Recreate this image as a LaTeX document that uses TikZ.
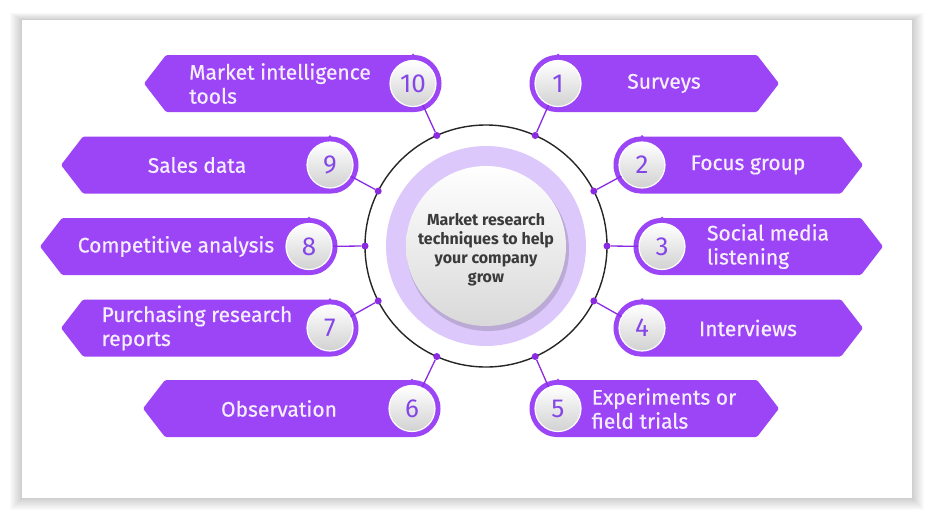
\documentclass[tikz,border=0pt]{standalone}
\usepackage{fontspec}
\setmainfont{Fira Sans}
\newfontfamily\bannerfont{Fira Sans}[FakeBold=0.6]
\usetikzlibrary{positioning,calc}
\definecolor{BannerPurple}{HTML}{9B45F7}
\definecolor{NumPurple}{HTML}{8446E6}
\definecolor{RingLilac}{HTML}{DCC8FB}
\definecolor{DotPurple}{HTML}{8A2BE2}
\definecolor{LabelWhite}{HTML}{F6EEFF}
\definecolor{HubGray}{HTML}{3B3B3B}

\tikzset{
  numball/.style={circle,minimum size=46pt,inner sep=0pt,draw=white,line width=1.2pt,
    top color=white,bottom color=black!18,text=NumPurple,font=\fontsize{26}{26}\selectfont},
  bannertext/.style={align=left,text=LabelWhite,font=\bannerfont\fontsize{21}{24}\selectfont,inner sep=0pt},
  ringdot/.style={circle,fill=DotPurple,inner sep=0pt,minimum size=7pt},
  link/.style={DotPurple,line width=1.3pt}
}

\begin{document}
\begin{tikzpicture}[x=1pt,y=-1pt]
  \useasboundingbox (0,0) rectangle (936,523);
  \fill[white] (0,0) rectangle (936,523);
  \foreach \i in {1,...,12} {
    \fill[black,opacity=0.016] (22-\i,20-\i*0.6) rectangle (912+\i,498+\i);
  }
  \fill[white] (22,20) rectangle (912,498);

  \coordinate (hub) at (486,246);
  \draw[black!85,line width=1.4pt] (hub) circle (121);
  \fill[RingLilac] (hub) circle (100);
  \fill[black,opacity=0.15] ($(hub)+(2,4)$) circle (81);
  \shade[top color=white,bottom color=black!15] (hub) circle (80);
  \node[align=center,text=HubGray,font=\bfseries\fontsize{16}{19}\selectfont] (title) at ($(hub)+(0,4)$)
    {Market research\\techniques to help\\your company\\grow};

  \foreach \k/\cx/\cy/\ang/\txt in {1/558/83.5/-66/Surveys,2/642/165/-27/Focus group,
      3/662/246.5/0/{Social media\\listening},4/642/328/27/Interviews,
      5/558/408.5/66/{Experiments or\\field trials}} {
    \fill[BannerPurple,rounded corners=1.5pt] (\cx,\cy-28.5) -- (\cx+199,\cy-28.5) -- (\cx+221,\cy)
      -- (\cx+199,\cy+28.5) -- (\cx,\cy+28.5) arc[start angle=90,end angle=270,radius=28.5] -- cycle;
    \node[numball] (n\k) at (\cx,\cy) {\k};
    \node[bannertext] (t\k) at (\cx+106,\cy) {\txt};
    \node[ringdot] (d\k) at ($(hub)+(\ang:121)$) {};
    \draw[link] (d\k) -- (n\k);
  }
  \foreach \k/\cx/\cy/\ang/\txt in {6/412/408.5/114/Observation,7/330/328/153/{Purchasing research\\reports},
      8/309/246.5/180/Competitive analysis,9/330/165/-153/Sales data,
      10/413/83.5/-114/{Market intelligence\\tools}} {
    \fill[BannerPurple,rounded corners=1.5pt] (\cx,\cy-28.5) -- (\cx-247,\cy-28.5) -- (\cx-269,\cy)
      -- (\cx-247,\cy+28.5) -- (\cx,\cy+28.5) arc[start angle=90,end angle=-90,radius=28.5] -- cycle;
    \node[numball] (n\k) at (\cx,\cy) {\k};
    \node[bannertext] (t\k) at (\cx-133,\cy) {\txt};
    \node[ringdot] (d\k) at ($(hub)+(\ang:121)$) {};
    \draw[link] (d\k) -- (n\k);
  }
\end{tikzpicture}
\end{document}
